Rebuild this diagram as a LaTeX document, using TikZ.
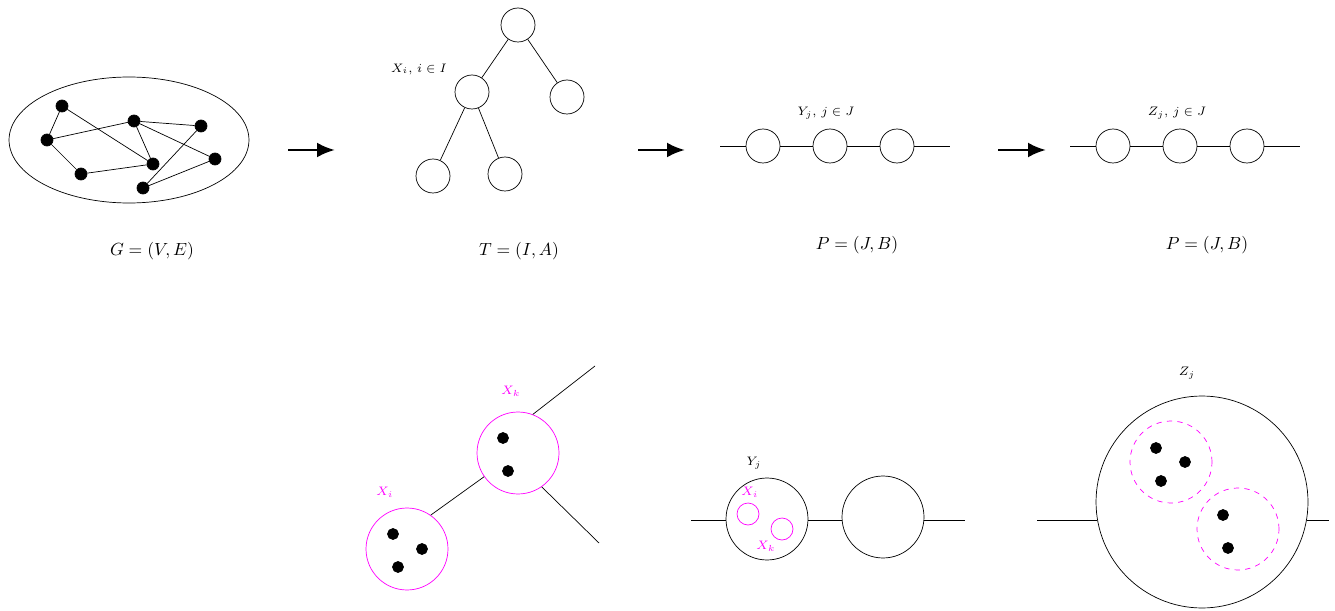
\documentclass[tikz,border=0pt]{standalone}
\usepackage{xcolor}
\usepackage{tikz}
\usetikzlibrary{shapes.geometric, arrows.meta}
\definecolor{mag}{RGB}{255,0,255}

\begin{document}
\begin{tikzpicture}[
  x=0.02cm, y=-0.02cm,
  dot/.style={draw, circle, fill=black, inner sep=0pt, minimum size=0.24cm},
  bag/.style={draw, circle, inner sep=0pt, minimum size=0.68cm},
  mbag/.style={draw=mag, circle, inner sep=0pt, minimum size=1.64cm},
  lbl/.style={font=\scriptsize},
  mlbl/.style={font=\scriptsize, text=mag},
  arr/.style={-{Latex[length=3.6mm, width=3mm]}, line width=1.6pt}
]
\useasboundingbox (0,0) rectangle (1335,611);

%% Graph G
\node[draw, ellipse, minimum width=4.8cm, minimum height=2.52cm] (ell) at (129,140) {};
\node[dot] (g1) at (62,106) {};
\node[dot] (g2) at (47,140) {};
\node[dot] (g3) at (81,174) {};
\node[dot] (g4) at (134,121) {};
\node[dot] (g5) at (153,164) {};
\node[dot] (g6) at (201,126) {};
\node[dot] (g7) at (215,159) {};
\node[dot] (g8) at (143,188) {};
\draw (g1) -- (g2);
\draw (g1) -- (g5);
\draw (g2) -- (g4);
\draw (g2) -- (g3);
\draw (g3) -- (g5);
\draw (g4) -- (g5);
\draw (g4) -- (g6);
\draw (g4) -- (g7);
\draw (g6) -- (g8);
\draw (g8) -- (g7);
\node (lG) at (152,251) {$G=(V,E)$};

%% Arrows
\coordinate (a1s) at (288,150); \coordinate (a1e) at (335,150);
\coordinate (a2s) at (638,150); \coordinate (a2e) at (685,150);
\coordinate (a3s) at (998,150); \coordinate (a3e) at (1046,150);
\draw[arr] (a1s) -- (a1e);
\draw[arr] (a2s) -- (a2e);
\draw[arr] (a3s) -- (a3e);

%% Tree T
\node[bag] (t0) at (518,25) {};
\node[bag] (t1) at (472,92) {};
\node[bag] (t2) at (567,97) {};
\node[bag] (t3) at (433,176) {};
\node[bag] (t4) at (505,174) {};
\draw (t0) -- (t1);
\draw (t0) -- (t2);
\draw (t1) -- (t3);
\draw (t1) -- (t4);
\node[lbl] (lX) at (419,69) {$X_i,\, i\in I$};
\node (lT) at (519,251) {$T=(I,A)$};

%% Path of Y bags
\coordinate (ys) at (720,146); \coordinate (ye) at (950,146);
\node[bag] (y1) at (763,146) {};
\node[bag] (y2) at (830,146) {};
\node[bag] (y3) at (897,146) {};
\draw (ys) -- (y1) -- (y2) -- (y3) -- (ye);
\node[lbl] (lY) at (826,113) {$Y_j,\, j\in J$};
\node (lP1) at (857,245) {$P=(J,B)$};

%% Path of Z bags
\coordinate (zs) at (1070,146); \coordinate (ze) at (1300,146);
\node[bag] (z1) at (1113,146) {};
\node[bag] (z2) at (1180,146) {};
\node[bag] (z3) at (1247,146) {};
\draw (zs) -- (z1) -- (z2) -- (z3) -- (ze);
\node[lbl] (lZ) at (1177,113) {$Z_j,\, j\in J$};
\node (lP2) at (1207,245) {$P=(J,B)$};

%% Bottom: tree bags
\node[mbag] (xk) at (518,453) {};
\node[mbag] (xi) at (407,549) {};
\node[dot, minimum size=0.22cm] (k1) at (503,438) {};
\node[dot, minimum size=0.22cm] (k2) at (508,471) {};
\node[dot, minimum size=0.22cm] (i1) at (393,534) {};
\node[dot, minimum size=0.22cm] (i2) at (422,549) {};
\node[dot, minimum size=0.22cm] (i3) at (398,567) {};
\coordinate (kup) at (595,366);
\coordinate (kdn) at (599,543);
\draw (xi.55) -- (xk.215);
\draw (xk.69) -- (kup);
\draw (xk.-55) -- (kdn);
\node[mlbl] (lXk) at (511,391) {$X_k$};
\node[mlbl] (lXi) at (385,492) {$X_i$};

%% Bottom: Y bags
\coordinate (bys) at (691,520); \coordinate (bye) at (965,520);
\node[draw, circle, inner sep=0pt, minimum size=1.64cm] (by1) at (767,519) {};
\node[draw, circle, inner sep=0pt, minimum size=1.64cm] (by2) at (883,517) {};
\draw (bys) -- (bys -| by1.west);
\draw (by1.east |- bys) -- (bys -| by2.west);
\draw (by2.east |- bye) -- (bye);
\node[draw=mag, circle, inner sep=0pt, minimum size=0.44cm] (sxi) at (748,514) {};
\node[draw=mag, circle, inner sep=0pt, minimum size=0.44cm] (sxk) at (782,529) {};
\node[lbl] (lYj) at (754,463) {$Y_j$};
\node[mlbl] (lsxi) at (750,492) {$X_i$};
\node[mlbl] (lsxk) at (766,546) {$X_k$};

%% Bottom: Z bag
\node[draw, circle, inner sep=0pt, minimum size=4.24cm] (bz) at (1202,502) {};
\coordinate (bzs) at (1037,520); \coordinate (bze) at (1329,520);
\draw (bzs) -- (bz.189.8 |- bzs);
\draw (bz.-9.8 |- bze) -- (bze);
\node[mbag, dashed] (dz1) at (1171,462) {};
\node[mbag, dashed] (dz2) at (1238,529) {};
\node[dot, minimum size=0.22cm] (d1) at (1156,448) {};
\node[dot, minimum size=0.22cm] (d2) at (1185,462) {};
\node[dot, minimum size=0.22cm] (d3) at (1161,481) {};
\node[dot, minimum size=0.22cm] (d4) at (1223,515) {};
\node[dot, minimum size=0.22cm] (d5) at (1228,548) {};
\node[lbl] (lZj) at (1187,373) {$Z_j$};

\end{tikzpicture}
\end{document}
